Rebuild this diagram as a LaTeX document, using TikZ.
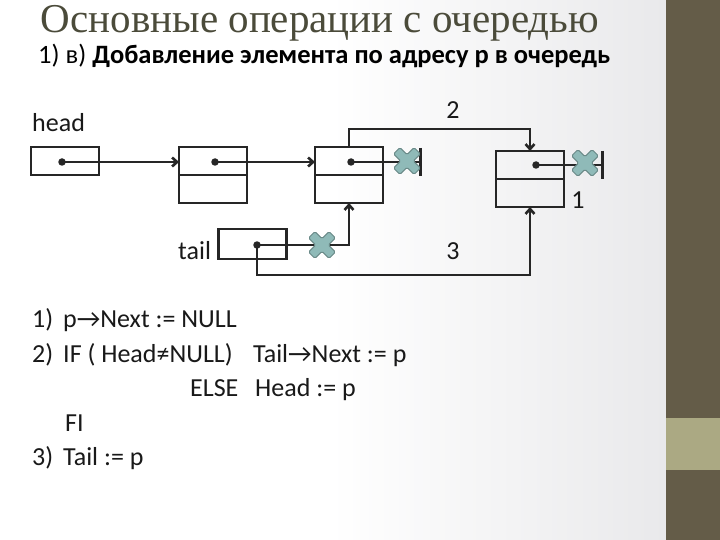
\documentclass[tikz,border=0pt]{standalone}
\usepackage{fontspec}
\setmainfont{Carlito}
\newfontfamily\titlefont{Liberation Serif}
\usetikzlibrary{arrows.meta,positioning,calc}

\definecolor{inkline}{HTML}{262626}
\definecolor{crossfill}{HTML}{8FBAB8}
\definecolor{crossedge}{HTML}{6A8A88}
\definecolor{sidebar}{HTML}{645C48}
\definecolor{sideband}{HTML}{ABA983}
\definecolor{titleink}{HTML}{4B4B3A}
\definecolor{pagegray}{HTML}{E9E9EB}

\newcommand{\rarr}{→}
\newcommand{\neqsym}{≠}

\tikzset{
  xmark/.pic={
    \filldraw[fill=crossfill,draw=crossedge,line width=1pt,rounded corners=1.5pt,rotate=45]
      (4.5,14.5) -- (4.5,4.5) -- (14.5,4.5) -- (14.5,-4.5) -- (4.5,-4.5) -- (4.5,-14.5)
      -- (-4.5,-14.5) -- (-4.5,-4.5) -- (-14.5,-4.5) -- (-14.5,4.5) -- (-4.5,4.5)
      -- (-4.5,14.5) -- cycle;
  }
}

\begin{document}
\begin{tikzpicture}[x=1pt,y=-1pt,
  cell/.style={draw=inkline,line width=2.6pt,minimum width=68pt,minimum height=28pt,
               inner sep=0pt,outer sep=0pt},
  dot/.style={circle,fill=inkline,inner sep=0pt,minimum size=7.5pt},
  link/.style={draw=inkline,line width=2.6pt},
  tip/.style={-{Straight Barb[length=5pt,width=9pt]}},
  txt/.style={font=\fontsize{26}{30}\selectfont,inner sep=0pt,anchor=base west,text=black!90}]

% page
\useasboundingbox (0,0) rectangle (720,540);
\fill[white] (0,0) rectangle (330,540);
\shade[left color=white,right color=pagegray] (330,0) rectangle (666,540);
\fill[sidebar] (666,0) rectangle (720,540);
\fill[sideband] (666,418) rectangle (720,470);

% titles
\node[font=\titlefont\fontsize{41}{46}\selectfont,text=titleink,anchor=base,inner sep=0pt]
  (title) at (320,33) {Основные операции с очередью};
\node[font=\fontsize{26.5}{30}\selectfont,anchor=base west,inner sep=0pt]
  (subtitle) at (38,64) {1) в) \textbf{Добавление элемента по адресу p в очередь}};

% boxes
\node[cell] (h) at (65,161) {};
\node[cell] (q1) at (213,161) {};
\node[cell,below=0pt of q1] (q1b) {};
\node[cell] (q2) at (349,161) {};
\node[cell,below=0pt of q2] (q2b) {};
\node[cell] (q3) at (530,165) {};
\node[cell,below=0pt of q3] (q3b) {};
\node[cell,minimum height=30pt] (t) at (252.5,244) {};

% pointers
\node[dot] (d0) at (62,162) {};
\node[dot] (d1) at (215,162) {};
\node[dot] (d2) at (351,162) {};
\node[dot] (d3) at (536,165) {};
\node[dot] (dt) at (257,245) {};
\coordinate (endB) at (422,162);
\coordinate (endC) at (604,165);

% labels
\node[txt] (lhead) at (32,132) {head};
\node[txt] (ltail) at (178,259) {tail};
\node[txt,anchor=base] (l2) at (453,119) {2};
\node[txt,anchor=base] (l1) at (578,209) {1};
\node[txt,anchor=base] (l3) at (453,259) {3};

% links
\draw[link,tip] (d0.center) -- (d0.center -| q1.west);
\draw[link,tip] (d1.center) -- (d1.center -| q2.west);
\draw[link,tip] (q2.north) -- ++(0,-18) -| (q3.north);
\draw[link,-{Bar[width=28pt]}] (d2.center) -- (endB);
\draw[link,-{Bar[width=28pt]}] (d3.center) -- (endC);
\draw[link,tip] (dt.center) -| (q2b.south);
\draw[link,tip] (dt.center) -- ++(0,30) -| (q3b.south);
\pic at (407,161) {xmark};
\pic at (585,163) {xmark};
\pic at (322,245) {xmark};

% algorithm
\node[txt] (n1) at (32,327) {1)};
\node[txt] (c1) at (63,327) {p\rarr Next := NULL};
\node[txt] (n2) at (32,362) {2)};
\node[txt] (c2) at (63,362) {IF ( Head\neqsym NULL)};
\node[txt] (c2a) at (253,362) {Tail\rarr Next := p};
\node[txt] (c3) at (190,396) {ELSE};
\node[txt] (c3a) at (255,396) {Head := p};
\node[txt] (c4) at (65,431) {FI};
\node[txt] (n5) at (32,465) {3)};
\node[txt] (c5) at (63,465) {Tail := p};
\end{tikzpicture}
\end{document}
